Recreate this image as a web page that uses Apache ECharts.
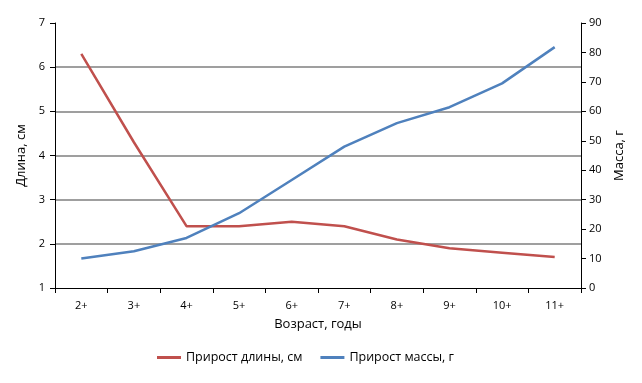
<!DOCTYPE html>
<html>
<head>
<meta charset="utf-8">
<script src="https://cdn.jsdelivr.net/npm/echarts@6/dist/echarts.min.js"></script>
<style>
  html, body { margin: 0; padding: 0; background: #fff; }
  #chart { width: 642px; height: 383px; }
</style>
</head>
<body>
<div id="chart"></div>
<script>
// Age classes
const ages = ['2+', '3+', '4+', '5+', '6+', '7+', '8+', '9+', '10+', '11+'];
// Length increment, cm (left axis)
const lengthGain = [6.3, 4.3, 2.4, 2.4, 2.5, 2.4, 2.1, 1.9, 1.8, 1.7];
// Mass increment, g (right axis)
const massGain = [10, 12.5, 17, 25.4, 36.7, 48, 56, 61.4, 69.5, 81.8];

const FONT = '"Open Sans", "DejaVu Sans", sans-serif';
const chart = echarts.init(document.getElementById('chart'), null, { renderer: 'canvas' });

chart.setOption({
  animation: false,
  textStyle: { fontFamily: FONT, color: '#000' },
  grid: { left: 55, right: 61, top: 23, bottom: 95 },
  legend: {
    bottom: 14,
    left: 152,
    itemGap: 18,
    itemWidth: 24,
    itemHeight: 3,
    icon: 'rect',
    textStyle: { fontFamily: FONT, fontSize: 12.5, color: '#000' },
    data: ['Прирост длины, см', 'Прирост массы, г']
  },
  xAxis: {
    type: 'category',
    data: ages,
    boundaryGap: true,
    name: 'Возраст, годы',
    nameLocation: 'middle',
    nameGap: 30,
    nameTextStyle: { fontFamily: FONT, fontSize: 13, color: '#000' },
    axisLine: { lineStyle: { color: '#000', width: 1 } },
    axisTick: { show: true, length: 5, lineStyle: { color: '#000' } },
    axisLabel: { fontSize: 11, color: '#000', margin: 12 },
    splitLine: { show: false }
  },
  yAxis: [
    {
      type: 'value',
      min: 1, max: 7, interval: 1,
      position: 'left',
      name: 'Длина, см',
      nameLocation: 'middle',
      nameGap: 22,
      nameTextStyle: { fontFamily: FONT, fontSize: 13, color: '#000' },
      axisLine: { show: true, lineStyle: { color: '#000', width: 1 } },
      axisTick: { show: true, length: 5, lineStyle: { color: '#000' } },
      axisLabel: { fontSize: 11, color: '#000', margin: 10 },
      splitLine: {
        show: true,
        showMinLine: false,
        showMaxLine: false,
        lineStyle: { color: '#7f7f7f', width: 1.5 }
      }
    },
    {
      type: 'value',
      min: 0, max: 90, interval: 10,
      position: 'right',
      name: 'Масса, г',
      nameLocation: 'middle',
      nameGap: 29,
      nameTextStyle: { fontFamily: FONT, fontSize: 13, color: '#000' },
      axisLine: { show: true, lineStyle: { color: '#000', width: 1 } },
      axisTick: { show: true, length: 5, lineStyle: { color: '#000' } },
      axisLabel: { fontSize: 11, color: '#000', margin: 8 },
      splitLine: { show: false }
    }
  ],
  series: [
    {
      name: 'Прирост длины, см',
      type: 'line',
      yAxisIndex: 0,
      data: lengthGain,
      symbol: 'none',
      color: '#C0504D',
      lineStyle: { color: '#C0504D', width: 2.5 }
    },
    {
      name: 'Прирост массы, г',
      type: 'line',
      yAxisIndex: 1,
      data: massGain,
      symbol: 'none',
      color: '#4F81BD',
      lineStyle: { color: '#4F81BD', width: 2.5 }
    }
  ]
});
</script>
</body>
</html>
